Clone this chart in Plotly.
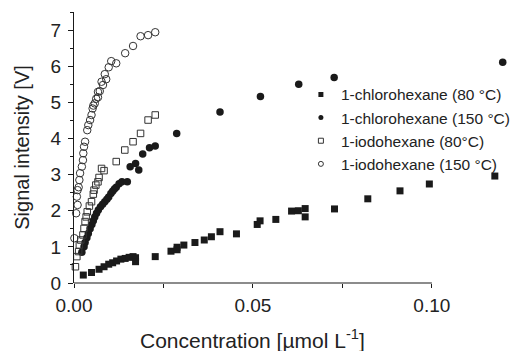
import plotly.graph_objects as go

# 1-chlorohexane (80 °C) - filled squares
cl80_x = [0.0026, 0.0049, 0.0070, 0.0084, 0.0097, 0.0108, 0.0119, 0.0131, 0.0143, 0.0154,
          0.0165, 0.0172, 0.0172, 0.0227, 0.0271, 0.0288, 0.0288, 0.0307, 0.0338, 0.0364,
          0.0384, 0.0408, 0.0454, 0.0512, 0.0520, 0.0564, 0.0608, 0.0627, 0.0646, 0.0646,
          0.0728, 0.0821, 0.0911, 0.0993, 0.1176]
cl80_y = [0.22, 0.29, 0.38, 0.45, 0.52, 0.56, 0.61, 0.66, 0.68, 0.71,
          0.73, 0.70, 0.59, 0.73, 0.88, 0.92, 0.99, 1.05, 1.12, 1.19,
          1.28, 1.42, 1.36, 1.62, 1.72, 1.76, 1.99, 2.00, 2.06, 1.83,
          2.05, 2.33, 2.55, 2.74, 2.96]

# 1-chlorohexane (150 °C) - filled circles
cl150_x = [0.0022, 0.0028, 0.0031, 0.0036, 0.0040, 0.0045, 0.0050, 0.0054, 0.0058, 0.0063,
           0.0068, 0.0074, 0.0080, 0.0086, 0.0092, 0.0097, 0.0103, 0.0108, 0.0113, 0.0118,
           0.0126, 0.0134, 0.0149, 0.0157, 0.0172, 0.0181, 0.0192, 0.0211, 0.0227, 0.0287,
           0.0408, 0.0521, 0.0628, 0.0727, 0.1198]
cl150_y = [0.85, 1.00, 1.12, 1.25, 1.37, 1.50, 1.62, 1.72, 1.83, 1.93,
           2.02, 2.11, 2.18, 2.25, 2.32, 2.38, 2.48, 2.54, 2.60, 2.65,
           2.75, 2.80, 2.80, 3.22, 3.31, 3.13, 3.57, 3.74, 3.79, 4.14,
           4.73, 5.16, 5.50, 5.69, 6.11]

# 1-iodohexane (80 °C) - open squares
io80_x = [0.0004, 0.0008, 0.0013, 0.0015, 0.0019, 0.0025, 0.0028, 0.0031, 0.0034, 0.0037,
          0.0043, 0.0049, 0.0054, 0.0056, 0.0061, 0.0067, 0.0070, 0.0077, 0.0084, 0.0118,
          0.0142, 0.0165, 0.0186, 0.0207, 0.0227]
io80_y = [0.45, 0.73, 0.87, 1.05, 1.19, 1.33, 1.51, 1.70, 1.83, 1.97,
          2.13, 2.25, 2.46, 2.57, 2.71, 2.80, 2.92, 3.17, 3.11, 3.36,
          3.68, 3.91, 4.14, 4.51, 4.65]

# 1-iodohexane (150 °C) - open circles
io150_x = [0.0001, 0.0006, 0.0010, 0.0008, 0.0010, 0.0013, 0.0015, 0.0017, 0.0022, 0.0025,
           0.0026, 0.0028, 0.0031, 0.0037, 0.0040, 0.0045, 0.0049, 0.0052, 0.0054, 0.0058,
           0.0062, 0.0067, 0.0067, 0.0072, 0.0077, 0.0081, 0.0086, 0.0090, 0.0097, 0.0104,
           0.0118, 0.0143, 0.0165, 0.0186, 0.0207, 0.0227]
io150_y = [1.24, 1.93, 2.16, 2.39, 2.57, 2.65, 2.85, 3.04, 3.22, 3.40,
           3.59, 3.77, 3.91, 4.23, 4.37, 4.51, 4.65, 4.83, 4.91, 4.97,
           5.10, 5.14, 5.29, 5.31, 5.57, 5.48, 5.78, 5.64, 5.97, 6.14,
           6.08, 6.36, 6.56, 6.83, 6.86, 6.94]

names = ["1-chlorohexane (80 °C)", "1-chlorohexane (150 °C)",
         "1-iodohexane (80°C)", "1-iodohexane (150 °C)"]

x_tickvals = [0.0, 0.025, 0.05, 0.075, 0.10]
x_ticktext = ["0.00", " ", "0.05", " ", "0.10"]
y_tickvals = [0, 1, 2, 3, 4, 5, 6, 7]
x_title = "Concentration [µmol L<sup>-1</sup>]"
y_title = "Signal intensity [V]"

ink = "#1a1a1a"
series = [
    (cl80_x, cl80_y, "square", ink, 7, 0),
    (cl150_x, cl150_y, "circle", ink, 7.5, 0),
    (io80_x, io80_y, "square-open", "#333333", 6.5, 1),
    (io150_x, io150_y, "circle-open", "#333333", 7.5, 1),
]

fig = go.Figure()
for (xs, ys, sym, col, sz, lw) in series:
    fig.add_trace(go.Scatter(x=xs, y=ys, mode="markers", showlegend=False, cliponaxis=False,
                             marker=dict(symbol=sym, color=col, size=sz,
                                         line=dict(width=lw, color=col))))
# legend entries (smaller symbols as in the reference)
for (xs, ys, sym, col, sz, lw), nm in zip(series, names):
    fig.add_trace(go.Scatter(x=[None], y=[None], mode="markers", name=nm,
                             marker=dict(symbol=sym, color=col, size=5,
                                         line=dict(width=1 if lw else 0, color=col))))

# x axis line only spans 0 .. 0.10
fig.add_shape(type="line", xref="x", yref="paper", x0=0, x1=0.10, y0=0, y1=0,
              line=dict(color=ink, width=1.2))

# x-axis title centred under the 0 .. 0.10 axis line
fig.add_annotation(text=x_title, xref="x", yref="paper", x=0.05, y=-0.205,
                   xanchor="center", yanchor="middle", showarrow=False,
                   font=dict(size=21, color="#222222"))

fig.update_layout(
    width=516, height=351,
    margin=dict(l=74, r=0, t=12, b=68),
    paper_bgcolor="white", plot_bgcolor="white",
    font=dict(family="Liberation Sans, Arial, sans-serif", color="#222222"),
    legend=dict(x=0.524, y=0.757, xanchor="left", yanchor="top",
                font=dict(size=15.5), bgcolor="rgba(0,0,0,0)",
                itemsizing="trace", tracegroupgap=0),
    xaxis=dict(range=[0, 0.121], showgrid=False, zeroline=False, showline=False,
               tickvals=x_tickvals, ticktext=x_ticktext, ticks="outside", ticklen=4,
               tickwidth=1.2, tickcolor=ink, tickfont=dict(size=19), ticklabelstandoff=1),
    yaxis=dict(range=[0, 7.5], showgrid=False, zeroline=False, showline=True,
               linecolor=ink, linewidth=1.2,
               tickvals=y_tickvals, ticks="outside", ticklen=5, tickwidth=1.2, tickcolor=ink,
               tickfont=dict(size=19), ticklabelstandoff=3,
               minor=dict(dtick=0.5, tick0=0, ticks="outside", ticklen=3, tickwidth=1, tickcolor=ink),
               title=dict(text=y_title, font=dict(size=20), standoff=15)),
)

fig.write_html("out.html")
